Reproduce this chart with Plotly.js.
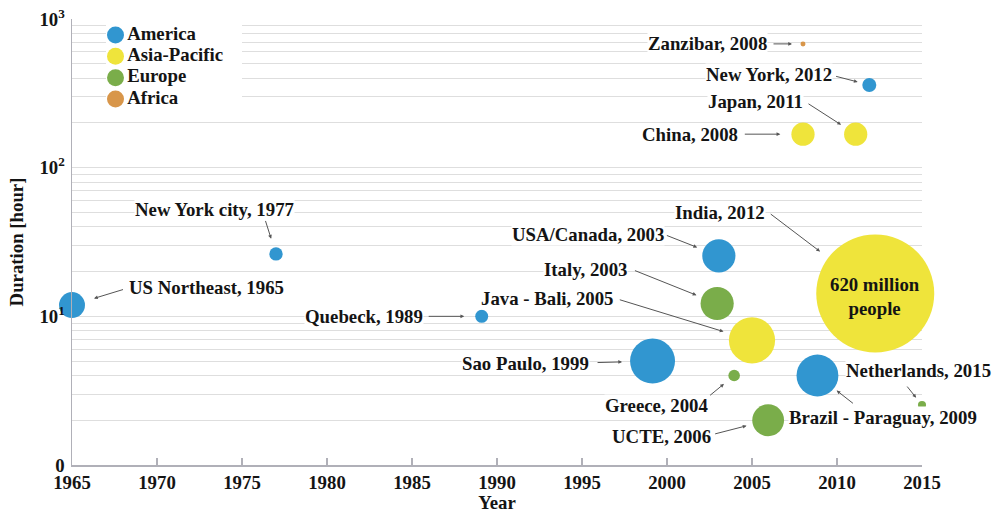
<!DOCTYPE html>
<html><head><meta charset="utf-8">
<script src="https://cdn.plot.ly/plotly-3.0.1.min.js"></script>
<style>html,body{margin:0;padding:0;background:#fff;} #chart{width:992px;height:513px;}</style>
</head><body><div id="chart"></div>
<script>
// ---------------- data ----------------
const events = ["US Northeast, 1965","New York city, 1977","Quebeck, 1989","Sao Paulo, 1999",
  "USA/Canada, 2003","Italy, 2003","Java - Bali, 2005","Greece, 2004","UCTE, 2006",
  "Brazil - Paraguay, 2009","Netherlands, 2015","India, 2012","Zanzibar, 2008",
  "New York, 2012","Japan, 2011","China, 2008"];
const years = [1965, 1977, 1989.1, 1999.15, 2003.05, 2002.95, 2005, 2003.95, 2005.95,
  2008.85, 2015, 2012.25, 2008, 2011.9, 2011.1, 2008];
const durations = [11.9, 26.3, 10, 5, 25.5, 12.2, 6.9, 4, 2, 4, 2.53, 14.25, 680, 360, 168, 168];
const peopleMillions = [30, 8, 7.5, 90, 49, 49, 95, 6, 45, 78, 2.9, 620, 1.1, 8.7, 24, 24];
const regions = ["America","America","America","America","America","Europe","Asia-Pacific",
  "Europe","Europe","America","Europe","Asia-Pacific","Africa","America","Asia-Pacific","Asia-Pacific"];
const regionNames = ["America","Asia-Pacific","Europe","Africa"];
const xTickVals = [1965,1970,1975,1980,1985,1990,1995,2000,2005,2010,2015];
const yTickVals = [1,10,100,1000];
const yTickText = ["0","10<sup>1</sup>","10<sup>2</sup>","10<sup>3</sup>"];
const indiaNote = "620 million<br>people";
const indiaIndex = 11;

// ---------------- styles ----------------
const regionColors = {"America":"#3196d0","Asia-Pacific":"#efe43b","Europe":"#7aad4a","Africa":"#d8964a"};
const FONT = "Liberation Serif, Times New Roman, serif";
const FS = 18.8;
const INK = "#141414";
const sizeRef = 2 * 620 / (118 * 118);
// label placement: pixel offsets from bubble centre (text centre, arrow tail, arrow standoff)
const labelPlace = [
  {dx:134,   dy:-17.5, ax:52.5,  ay:-16,   so:23},
  {dx:-62,   dy:-44.5, ax:-11,   ay:-34.5, so:16},
  {dx:-117.5,dy:0,     ax:-54.5, ay:0,     so:17.5},
  {dx:-127,  dy:2,     ax:-56.5, ay:1.5,   so:30.5},
  {dx:-131,  dy:-21,   ax:-53.5, ay:-21,   so:23.3},
  {dx:-131.7,dy:-33.5, ax:-83.7, ay:-33.5, so:22.3},
  {dx:-204.7,dy:-42,   ax:-133.7,ay:-41,   so:29.8},
  {dx:-77,   dy:30.5,  ax:-25.5, ay:21,    so:13.2},
  {dx:-106.5,dy:16,    ax:-54.5, ay:14,    so:22.3},
  {dx:66,    dy:42,    ax:37,    ay:29,    so:24.4},
  {dx:-4,    dy:-35,   ax:-16,   ay:-20,   so:9.4},
  {dx:-155,  dy:-81,   ax:-106,  ay:-80.5, so:69.3},
  {dx:-95.5, dy:0,     ax:-31,   ay:0,     so:11},
  {dx:-100.7,dy:-10,   ax:-34.7, ay:-9,    so:12},
  {dx:-100.2,dy:-32.3, ax:-48.7, ay:-31.3, so:17.4},
  {dx:-112.7,dy:0,     ax:-59.7, ay:0,     so:22.7}
];

// ---------------- traces ----------------
const traces = [];
regionNames.forEach(function(reg){
  const idx = regions.map(function(r,i){return r===reg?i:-1;}).filter(function(i){return i>=0;});
  traces.push({
    type:"scatter", mode:"markers", name:reg, showlegend:false, cliponaxis:false,
    x: idx.map(function(i){return years[i];}),
    y: idx.map(function(i){return durations[i];}),
    text: idx.map(function(i){return events[i];}),
    marker:{size: idx.map(function(i){return peopleMillions[i];}), sizemode:"area", sizeref:sizeRef,
      color: regionColors[reg], opacity:1, line:{width:0}},
    hoverinfo:"text"
  });
});
// region key (legend) drawn on its own small category axis
traces.push({
  type:"scatter", mode:"markers+text", name:"Region", showlegend:false, cliponaxis:false,
  xaxis:"x2", yaxis:"y2",
  x: regionNames.map(function(){return 0;}),
  y: regionNames,
  text: regionNames, textposition:"middle right",
  textfont:{family:FONT, size:FS, color:INK, weight:"bold"},
  marker:{size:17, color: regionNames.map(function(r){return regionColors[r];}), line:{width:0}},
  hoverinfo:"skip"
});

// ---------------- annotations ----------------
const annotations = [];
const labelFont = {family:FONT, size:FS, color:INK, weight:"bold"};
events.forEach(function(label,i){
  const p = labelPlace[i];
  const ly = Math.log10(durations[i]);
  annotations.push({x:years[i], y:ly, xref:"x", yref:"y", text:"", showarrow:true,
    ax:p.ax, ay:p.ay, standoff:p.so, arrowhead:2, arrowsize:0.75, arrowwidth:1, arrowcolor:"#555555"});
  annotations.push({x:years[i], y:ly, xref:"x", yref:"y", text:label, showarrow:false,
    xshift:p.dx, yshift:-p.dy, xanchor:"center", yanchor:"middle",
    bgcolor:"#ffffff", borderpad:0, font:labelFont});
});
annotations.push({x:years[indiaIndex], y:Math.log10(durations[indiaIndex]), xref:"x", yref:"y",
  text:indiaNote, showarrow:false, yshift:-3.5, xanchor:"center", yanchor:"middle", font:labelFont});

// ---------------- minor grid values ----------------
const minorVals = [];
[1,10,100].forEach(function(d){ for(let k=2;k<=9;k++) minorVals.push(k*d); });

const GRID = "#dedede";
const AXIS = "#b0b0b8";
const layout = {
  width:992, height:513,
  margin:{l:72, r:70, t:19, b:48, pad:0, autoexpand:false},
  paper_bgcolor:"#ffffff", plot_bgcolor:"#ffffff",
  font:{family:FONT, size:FS, color:INK, weight:"bold"},
  showlegend:false,
  shapes:[{type:"rect", xref:"paper", yref:"paper", x0:0.036, x1:0.18, y0:0.80, y1:0.985,
    fillcolor:"#ffffff", line:{width:0}, layer:"below"}],
  xaxis:{range:[1965,2015], tickvals:xTickVals, ticks:"inside", ticklen:7, tickwidth:1.5,
    tickcolor:AXIS, showline:true, linecolor:AXIS, linewidth:1.5, showgrid:false,
    zeroline:false, automargin:false,
    tickfont:{family:FONT, size:FS, color:INK, weight:"bold"},
    title:{text:"Year", standoff:6, font:{family:FONT, size:FS, color:INK, weight:"bold"}}},
  yaxis:{type:"log", range:[0,3], tickvals:yTickVals, ticktext:yTickText, ticks:"",
    showline:true, linecolor:AXIS, linewidth:1.5, showgrid:true, gridcolor:GRID, gridwidth:1,
    zeroline:false, automargin:false, ticklabelstandoff:2,
    minor:{tickvals:minorVals, showgrid:true, gridcolor:GRID, gridwidth:1, ticks:""},
    tickfont:{family:FONT, size:FS, color:INK, weight:"bold"},
    title:{text:"Duration [hour]", standoff:11, font:{family:FONT, size:FS, color:INK, weight:"bold"}}},
  xaxis2:{domain:[0.04, 0.20], range:[-9.5, 126.5], anchor:"y2", visible:false, fixedrange:true},
  yaxis2:{domain:[0.7966, 0.9881], type:"category", categoryorder:"array", categoryarray:regionNames,
    range:[3.5, -0.5], anchor:"x2", visible:false, fixedrange:true},
  annotations:annotations
};

Plotly.newPlot("chart", traces, layout, {displayModeBar:false, staticPlot:true});
</script>
</body></html>
